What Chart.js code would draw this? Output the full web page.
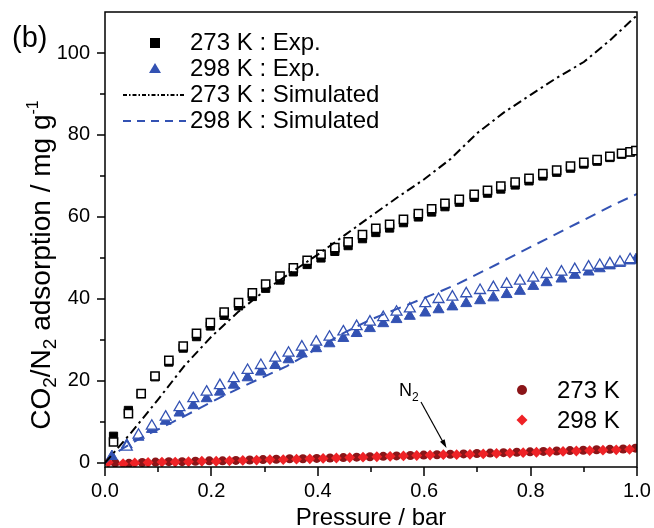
<!DOCTYPE html>
<html>
<head>
<meta charset="utf-8">
<script src="https://cdn.jsdelivr.net/npm/chart.js@4.4.1/dist/chart.umd.min.js"></script>
<style>
  html, body { margin: 0; padding: 0; background: #fff; }
</style>
</head>
<body>
<canvas id="myChart" width="654" height="528"></canvas>
<script>
// ---- data ----
var xMajor = [0, 0.2, 0.4, 0.6, 0.8, 1.0];
var xMinor = [0.1, 0.3, 0.5, 0.7, 0.9];
var yMajor = [0, 20, 40, 60, 80, 100];
var yMinor = [10, 30, 50, 70, 90];

// 273 K CO2, experimental (filled = adsorption, open = desorption)
var p273 = [0.016, 0.044, 0.068, 0.094, 0.120, 0.147, 0.172, 0.198, 0.224, 0.251, 0.277, 0.302, 0.329,
            0.354, 0.380, 0.406, 0.432, 0.457, 0.484, 0.509, 0.535, 0.561, 0.589, 0.614, 0.639, 0.666,
            0.694, 0.719, 0.744, 0.771, 0.797, 0.823, 0.849, 0.875, 0.900, 0.925, 0.949, 0.971, 0.987, 0.998];
var ads273 = [6.5, 12.8, 16.9, 21.0, 24.6, 28.0, 30.8, 33.4, 36.0, 38.3, 40.6, 42.6, 44.6,
              46.6, 48.4, 50.0, 51.6, 53.0, 54.7, 56.2, 57.3, 58.6, 60.0, 61.2, 62.5, 63.6,
              64.8, 65.8, 66.8, 67.8, 68.8, 70.0, 70.9, 71.9, 72.9, 73.6, 74.5, 75.3, 75.9, 76.2];
var des273 = [5.1, 12.0, 16.9, 21.2, 25.0, 28.5, 31.6, 34.2, 36.8, 39.1, 41.5, 43.6, 45.6,
              47.6, 49.4, 50.9, 52.5, 53.9, 55.7, 57.2, 58.2, 59.4, 60.8, 62.0, 63.3, 64.3,
              65.5, 66.5, 67.5, 68.5, 69.4, 70.6, 71.4, 72.4, 73.3, 74.0, 74.8, 75.5, 75.9, 76.2];

// 298 K CO2, experimental
var p298 = [0.013, 0.041, 0.063, 0.088, 0.114, 0.140, 0.166, 0.191, 0.216, 0.242, 0.268, 0.293, 0.320,
            0.345, 0.370, 0.397, 0.422, 0.448, 0.473, 0.498, 0.523, 0.548, 0.573, 0.602, 0.627, 0.653,
            0.679, 0.705, 0.730, 0.755, 0.780, 0.805, 0.830, 0.858, 0.883, 0.909, 0.930, 0.949, 0.968, 0.987, 0.998];
var ads298 = [1.6, 4.4, 6.3, 8.2, 10.2, 12.2, 14.0, 15.7, 17.3, 19.0, 20.8, 22.2, 23.8,
              25.2, 26.6, 27.9, 29.1, 30.4, 31.6, 32.8, 34.0, 35.0, 35.8, 36.6, 37.4, 38.1,
              38.9, 39.6, 40.3, 41.1, 41.9, 43.1, 44.0, 44.9, 45.8, 46.6, 47.4, 48.1, 48.7, 49.3, 49.6];
var des298 = [null, 3.9, 6.8, 9.0, 11.2, 13.5, 15.7, 17.3, 18.9, 20.6, 22.6, 23.8, 25.6,
              26.8, 28.3, 29.5, 30.7, 32.0, 33.3, 34.4, 35.5, 36.8, 37.6, 38.9, 39.9, 40.5,
              41.3, 42.1, 42.8, 43.6, 44.4, 45.1, 46.0, 46.6, 47.2, 47.8, 48.2, 48.6, 49.0, 49.6, null];

// simulated isotherms
var pSim273 = [0, 0.02, 0.05, 0.10, 0.15, 0.20, 0.25, 0.30, 0.35, 0.40, 0.45, 0.50, 0.55,
               0.60, 0.65, 0.70, 0.75, 0.80, 0.85, 0.90, 0.95, 1.00];
var sim273 = [0, 3.0, 7.5, 15.5, 23.8, 30.8, 36.8, 42.0, 46.5, 50.8, 55.5, 60.2, 64.8,
              69.2, 74.2, 80.5, 85.5, 89.8, 94.0, 97.8, 103.2, 109.2];
var pSim298 = [0, 0.028, 0.066, 0.128, 0.179, 0.226, 0.285, 0.342, 0.40, 0.45, 0.50, 0.53, 0.573,
               0.605, 0.633, 0.665, 0.736, 0.811, 0.887, 0.955, 1.00];
var sim298 = [0, 3.1, 6.0, 10.0, 13.4, 16.6, 20.2, 23.6, 28.0, 31.8, 35.0, 36.6, 38.8,
              40.5, 42.0, 43.8, 48.4, 53.4, 58.4, 62.9, 65.6];

// N2 uptake
var pN2a = [0.019, 0.045, 0.070, 0.095, 0.120, 0.145, 0.170, 0.196, 0.221, 0.246, 0.272, 0.297, 0.322,
            0.347, 0.372, 0.398, 0.423, 0.448, 0.473, 0.498, 0.523, 0.548, 0.574, 0.599, 0.624, 0.649,
            0.674, 0.699, 0.724, 0.749, 0.774, 0.799, 0.824, 0.849, 0.874, 0.899, 0.924, 0.949, 0.974, 0.997];
var n2a = [0.0, -0.1, 0.1, 0.2, 0.3, 0.3, 0.4, 0.5, 0.5, 0.6, 0.7, 0.8, 0.9,
           1.0, 1.0, 1.1, 1.2, 1.3, 1.4, 1.5, 1.6, 1.7, 1.8, 1.9, 2.0, 2.1,
           2.2, 2.3, 2.4, 2.5, 2.6, 2.7, 2.8, 2.9, 3.0, 3.1, 3.2, 3.3, 3.4, 3.6];
var pN2b = [0.006, 0.034, 0.056, 0.081, 0.107, 0.132, 0.157, 0.182, 0.209, 0.234, 0.259, 0.285, 0.310,
            0.335, 0.360, 0.385, 0.410, 0.435, 0.460, 0.485, 0.511, 0.536, 0.561, 0.586, 0.611, 0.636,
            0.661, 0.686, 0.711, 0.736, 0.761, 0.786, 0.811, 0.836, 0.861, 0.886, 0.911, 0.936, 0.961, 0.986];
var n2b = [0.1, -0.2, 0.0, 0.1, 0.2, 0.2, 0.3, 0.4, 0.4, 0.5, 0.6, 0.7, 0.8,
           0.8, 0.9, 1.0, 1.1, 1.2, 1.3, 1.4, 1.5, 1.6, 1.7, 1.8, 1.9, 2.0,
           2.0, 2.1, 2.2, 2.3, 2.4, 2.5, 2.6, 2.7, 2.8, 2.9, 3.0, 3.1, 3.2, 3.3];

var BLUE = "#3352b3";
var RED = "#ef2226";
var DARKRED = "#8a1518";
var FONT = '"Liberation Sans", Arial, sans-serif';

function pts(xs, ys) {
  var out = [];
  for (var i = 0; i < xs.length; i++) {
    if (ys[i] !== null) out.push({ x: xs[i], y: ys[i] });
  }
  return out;
}

// text with sub/superscripts: parts = [[text, size, dy], ...]
function richWidth(ctx, parts) {
  var w = 0;
  parts.forEach(function (p) {
    ctx.font = p[1] + "px " + FONT;
    w += ctx.measureText(p[0]).width;
  });
  return w;
}
function drawRich(ctx, parts, x, y) {
  var cx = x;
  parts.forEach(function (p) {
    ctx.font = p[1] + "px " + FONT;
    ctx.fillText(p[0], cx, y + (p[2] || 0));
    cx += ctx.measureText(p[0]).width;
  });
}

const decor = {
  id: "decor",
  afterDraw(chart) {
    const ctx = chart.ctx;
    const a = chart.chartArea;
    const sx = chart.scales.x;
    const sy = chart.scales.y;
    ctx.save();

    // frame + ticks
    ctx.strokeStyle = "#000";
    ctx.lineWidth = 1.5;
    ctx.strokeRect(a.left, a.top, a.right - a.left, a.bottom - a.top);
    ctx.beginPath();
    xMajor.forEach(function (v) {
      var p = Math.round(sx.getPixelForValue(v));
      ctx.moveTo(p, a.bottom); ctx.lineTo(p, a.bottom + 9);
    });
    xMinor.forEach(function (v) {
      var p = Math.round(sx.getPixelForValue(v));
      ctx.moveTo(p, a.bottom); ctx.lineTo(p, a.bottom + 5);
    });
    yMajor.forEach(function (v) {
      var p = Math.round(sy.getPixelForValue(v));
      ctx.moveTo(a.left, p); ctx.lineTo(a.left - 8, p);
    });
    yMinor.forEach(function (v) {
      var p = Math.round(sy.getPixelForValue(v));
      ctx.moveTo(a.left, p); ctx.lineTo(a.left - 5, p);
    });
    ctx.stroke();

    ctx.fillStyle = "#000";
    ctx.textBaseline = "alphabetic";
    ctx.textAlign = "left";

    // panel label
    ctx.font = "29px " + FONT;
    ctx.fillText("(b)", 12, 47);

    // x title
    ctx.font = "24px " + FONT;
    ctx.textAlign = "center";
    ctx.fillText("Pressure / bar", (a.left + a.right) / 2, 525);
    ctx.textAlign = "left";

    // y title
    var yt = [["CO", 28], ["2", 19, 6], ["/N", 28], ["2", 19, 6], [" adsorption / mg g", 28], ["-1", 16, -12]];
    ctx.save();
    ctx.translate(50, 265);
    ctx.rotate(-Math.PI / 2);
    drawRich(ctx, yt, -richWidth(ctx, yt) / 2, 0);
    ctx.restore();

    // legend (top left)
    ctx.font = "24px " + FONT;
    ctx.textBaseline = "middle";
    var lx = 190;
    var rows = [43, 69, 95, 121];
    ctx.fillText("273 K : Exp.", lx, rows[0]);
    ctx.fillText("298 K : Exp.", lx, rows[1]);
    ctx.fillText("273 K : Simulated", lx, rows[2]);
    ctx.fillText("298 K : Simulated", lx, rows[3]);
    ctx.fillStyle = "#000";
    ctx.fillRect(150, rows[0] - 5, 10, 10);
    ctx.fillStyle = BLUE;
    ctx.beginPath();
    ctx.moveTo(155, rows[1] - 6); ctx.lineTo(161, rows[1] + 4); ctx.lineTo(149, rows[1] + 4);
    ctx.closePath(); ctx.fill();
    ctx.lineWidth = 1.8;
    ctx.strokeStyle = "#000";
    ctx.setLineDash([4, 2, 1.5, 2]);
    ctx.beginPath(); ctx.moveTo(123, rows[2]); ctx.lineTo(186, rows[2]); ctx.stroke();
    ctx.strokeStyle = BLUE;
    ctx.setLineDash([8, 6]);
    ctx.beginPath(); ctx.moveTo(123, rows[3]); ctx.lineTo(186, rows[3]); ctx.stroke();
    ctx.setLineDash([]);

    // legend (N2)
    ctx.fillStyle = "#000";
    ctx.fillText("273 K", 557, 391);
    ctx.fillText("298 K", 557, 421);
    ctx.fillStyle = DARKRED;
    ctx.beginPath(); ctx.arc(522, 390, 5, 0, Math.PI * 2); ctx.fill();
    ctx.fillStyle = RED;
    ctx.beginPath();
    ctx.moveTo(522, 414.5); ctx.lineTo(527.5, 420); ctx.lineTo(522, 425.5); ctx.lineTo(516.5, 420);
    ctx.closePath(); ctx.fill();

    // N2 annotation with arrow
    ctx.fillStyle = "#000";
    ctx.textBaseline = "alphabetic";
    drawRich(ctx, [["N", 18], ["2", 12, 5]], 399, 396);
    ctx.strokeStyle = "#000";
    ctx.lineWidth = 1.2;
    ctx.beginPath(); ctx.moveTo(421, 402); ctx.lineTo(443, 442); ctx.stroke();
    var ang = Math.atan2(448 - 402, 446.5 - 421);
    ctx.beginPath();
    ctx.moveTo(446.5, 448);
    ctx.lineTo(446.5 - 9 * Math.cos(ang - 0.3), 448 - 9 * Math.sin(ang - 0.3));
    ctx.lineTo(446.5 - 9 * Math.cos(ang + 0.3), 448 - 9 * Math.sin(ang + 0.3));
    ctx.closePath(); ctx.fill();

    ctx.restore();
  }
};

var ctx = document.getElementById("myChart");
new Chart(ctx, {
  type: "scatter",
  data: {
    datasets: [
      {
        label: "273 K : Simulated",
        data: pts(pSim273, sim273),
        showLine: true, pointRadius: 0, borderColor: "#000", borderWidth: 2,
        borderDash: [9, 4, 2.5, 4], tension: 0
      },
      {
        label: "298 K : Simulated",
        data: pts(pSim298, sim298),
        showLine: true, pointRadius: 0, borderColor: BLUE, borderWidth: 2,
        borderDash: [11, 7], tension: 0
      },
      {
        label: "273 K des",
        data: pts(p273, des273),
        pointStyle: "rect", pointRadius: 5.8, pointBorderWidth: 1.5,
        pointBorderColor: "#000", pointBackgroundColor: "#fff"
      },
      {
        label: "273 K : Exp.",
        data: pts(p273, ads273),
        pointStyle: "rect", pointRadius: 5.8, pointBorderWidth: 1,
        pointBorderColor: "#000", pointBackgroundColor: "#000"
      },
      {
        label: "298 K des",
        data: pts(p298, des298),
        pointStyle: "triangle", pointRadius: 6.3, pointBorderWidth: 1.3,
        pointBorderColor: BLUE, pointBackgroundColor: "#fff"
      },
      {
        label: "298 K : Exp.",
        data: pts(p298, ads298),
        pointStyle: "triangle", pointRadius: 6.3, pointBorderWidth: 1,
        pointBorderColor: BLUE, pointBackgroundColor: BLUE
      },
      {
        label: "N2 298 K",
        data: pts(pN2b, n2b),
        pointStyle: "rectRot", pointRadius: 5.4, pointBorderWidth: 0,
        pointBackgroundColor: RED, pointBorderColor: RED
      },
      {
        label: "N2 273 K",
        data: pts(pN2a, n2a),
        pointStyle: "circle", pointRadius: 4.5, pointBorderWidth: 0,
        pointBackgroundColor: DARKRED, pointBorderColor: DARKRED
      }
    ]
  },
  options: {
    responsive: false,
    animation: false,
    layout: { autoPadding: false, padding: { left: 0, right: 17, top: 12, bottom: 0 } },
    plugins: { legend: { display: false }, tooltip: { enabled: false } },
    scales: {
      x: {
        type: "linear", min: 0, max: 1,
        grid: { display: false, drawTicks: false },
        border: { display: false },
        afterBuildTicks: function (s) { s.ticks = xMajor.map(function (v) { return { value: v }; }); },
        afterFit: function (s) { s.height = 61; s.paddingLeft = 0; s.paddingRight = 0; },
        ticks: {
          padding: 12, color: "#000",
          font: { family: FONT, size: 20 },
          callback: function (v) { return Number(v).toFixed(1); }
        }
      },
      y: {
        type: "linear", min: -1, max: 110,
        grid: { display: false, drawTicks: false },
        border: { display: false },
        afterBuildTicks: function (s) { s.ticks = yMajor.map(function (v) { return { value: v }; }); },
        afterFit: function (s) { s.width = 105; s.paddingTop = 0; s.paddingBottom = 0; },
        ticks: {
          padding: 15, color: "#000",
          font: { family: FONT, size: 20 }
        }
      }
    }
  },
  plugins: [decor]
});
</script>
</body>
</html>
